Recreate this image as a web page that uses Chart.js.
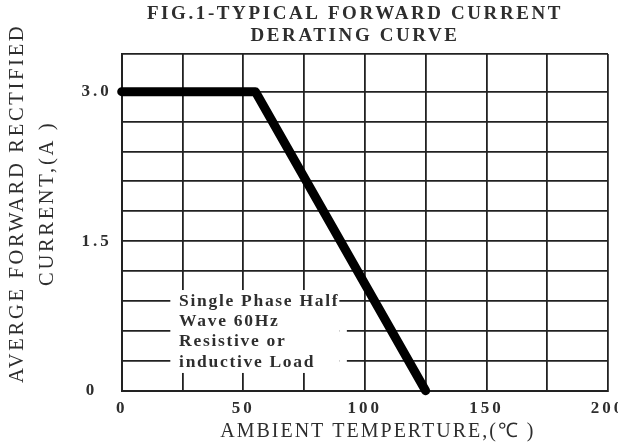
<!DOCTYPE html>
<html><head><meta charset="utf-8">
<script src="https://cdn.jsdelivr.net/npm/chart.js@4/dist/chart.umd.min.js"></script>
<style>html,body{margin:0;padding:0;background:#fff}canvas{display:block}</style>
</head><body>
<canvas id="c" width="618" height="448"></canvas>
<script>
const titleLines = ['FIG.1-TYPICAL FORWARD CURRENT', 'DERATING CURVE'];
const xAxisTitle = 'AMBIENT TEMPERTURE,(\u2103 )';
const yAxisTitle = ['AVERGE FORWARD RECTIFIED', 'CURRENT,(A )'];
const temperature = [0, 55, 125];
const current = [3.0, 3.0, 0];
const xTickLabels = [0, 50, 100, 150, 200];
const yTickValues = [0, 1.5, 3.0];
const yTickText = ['0', '1.5', '3.0'];
const noteLines = ['Single Phase Half', 'Wave 60Hz', 'Resistive or', 'inductive Load'];

const SERIF = '"Liberation Serif", "Times New Roman", serif';
const INK = '#2e2e2e';
const GRID = '#222';

// letter spacing by font size (the reference uses widely spaced lettering)
const SPACING = {'19': '2.6px', '17': '3px', '17.5': '1.7px', '20': '2px', '20.5': '2.7px'};
function spacingFor(font) { const m = /([\d.]+)px/.exec(font); return (m && SPACING[m[1]]) || '0px'; }
const canvas = document.getElementById('c');
const cx = canvas.getContext('2d');
const origFill = cx.fillText, origMeasure = cx.measureText;
cx.fillText = function (...a) { this.letterSpacing = spacingFor(this.font); return origFill.apply(this, a); };
cx.measureText = function (...a) { this.letterSpacing = spacingFor(this.font); return origMeasure.apply(this, a); };

function shiftDraw(obj, method, dx, dy) {
  if (!obj || obj['_shift_' + method]) return;
  obj['_shift_' + method] = true;
  const orig = obj[method];
  obj[method] = function (...a) {
    const c = this.ctx; c.save(); c.translate(dx, dy);
    const r = orig.apply(this, a); c.restore(); return r;
  };
}

const titleShiftPlugin = {
  id: 'titleShift',
  afterInit(chart) { shiftDraw(chart.titleBlock, 'draw', 51, 0); }
};

const notePlugin = {
  id: 'note',
  beforeDatasetsDraw(chart) {
    const {ctx, scales: {x, y}} = chart;
    ctx.save();
    ctx.fillStyle = '#fff';
    const l = x.getPixelForValue(20), r = x.getPixelForValue(89.5), r2 = x.getPixelForValue(92.6);
    const t = y.getPixelForValue(1.01), b = y.getPixelForValue(0.178), t2 = y.getPixelForValue(0.8);
    ctx.fillRect(l, t, r - l, b - t);
    ctx.fillRect(r, t2, r2 - r, b - t2);
    ctx.font = 'bold 17.5px ' + SERIF;
    ctx.fillStyle = INK;
    ctx.textBaseline = 'alphabetic';
    ctx.textAlign = 'left';
    const tx = x.getPixelForValue(23.6);
    const ty = y.getPixelForValue(0.85);
    noteLines.forEach((s, i) => ctx.fillText(s, tx, ty + i * 20.2));
    ctx.restore();
  }
};

new Chart(canvas, {
  type: 'line',
  data: {
    datasets: [{
      data: temperature.map((t, i) => ({x: t, y: current[i]})),
      borderColor: '#000',
      borderWidth: 9,
      pointRadius: 0,
      borderCapStyle: 'round',
      borderJoinStyle: 'round',
      tension: 0,
      clip: false
    }]
  },
  options: {
    responsive: false,
    animation: false,
    devicePixelRatio: 1,
    layout: {padding: {left: 0, right: 10, top: 0, bottom: 0}},
    plugins: {
      legend: {display: false},
      tooltip: {enabled: false},
      title: {
        display: true,
        text: titleLines,
        color: INK,
        font: {family: SERIF, size: 19, weight: 'bold', lineHeight: 21.5 / 19},
        padding: {top: 3.5, bottom: 7.5}
      }
    },
    scales: {
      x: {
        type: 'linear', min: 0, max: 200,
        ticks: {
          stepSize: 25, autoSkip: false, maxRotation: 0, padding: 8,
          color: INK, font: {family: SERIF, size: 17, weight: 'bold'},
          callback: (v) => xTickLabels.includes(v) ? String(v) : ''
        },
        grid: {color: GRID, lineWidth: 1.8, drawTicks: false},
        border: {display: true, color: GRID, width: 2},
        title: {display: true, text: xAxisTitle, color: INK, font: {family: SERIF, size: 20}, padding: {top: 0, bottom: 4}},
        afterFit(s) {
          s.height = 57.3; s.paddingLeft = 0; s.paddingRight = 0;
          shiftDraw(s, 'drawTitle', 13, 0);
        }
      },
      y: {
        type: 'linear', min: 0, max: 3.378,
        ticks: {
          stepSize: 0.3, autoSkip: false, padding: 10,
          color: INK, font: {family: SERIF, size: 17, weight: 'bold'},
          callback: (v) => {
            const i = yTickValues.findIndex(t => Math.abs(t - v) < 1e-6);
            if (i < 0) return '';
            return yTickValues[i] === 0 ? yTickText[i] + '  ' : yTickText[i];
          }
        },
        grid: {color: GRID, lineWidth: 1.8, drawTicks: false},
        border: {display: true, color: GRID, width: 2},
        title: {display: true, text: yAxisTitle, color: INK, font: {family: SERIF, size: 20.5, lineHeight: 30 / 20.5}, padding: {top: 3, bottom: 0}},
        afterFit(s) {
          s.width = 121.7; s.paddingTop = 0; s.paddingBottom = 0;
          shiftDraw(s, 'drawTitle', 0, -19);
        }
      }
    }
  },
  plugins: [titleShiftPlugin, notePlugin]
});
</script>
</body></html>
